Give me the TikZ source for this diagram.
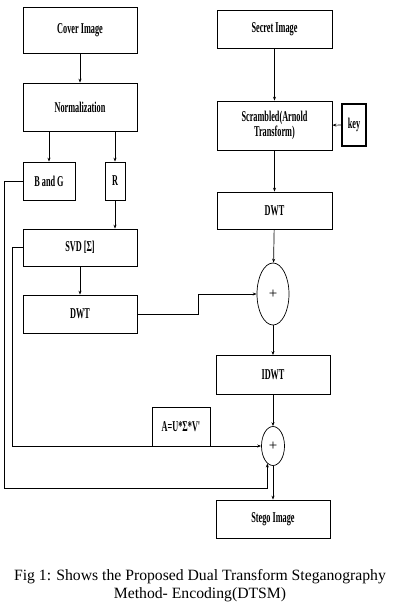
\documentclass[tikz,border=0pt]{standalone}
\usepackage{fontspec}
\setmainfont{Liberation Serif}
\newfontfamily\boxfont[FakeStretch=0.55]{Liberation Serif}
\usetikzlibrary{shapes.geometric,arrows.meta}

\begin{document}
\begin{tikzpicture}[
        x=1pt,
        y=-1pt,
        blockbox/.style={
            draw,
            line width=0.7pt,
            minimum width=114pt,
            minimum height=38pt,
            inner sep=1pt,
            align=center,
            font=\boxfont\bfseries\fontsize{15}{13}\selectfont
        },
        sumnode/.style={
            draw,
            ellipse,
            line width=0.7pt,
            inner sep=0pt,
            font=\fontsize{15}{15}\selectfont
        },
        link/.style={
            line width=0.7pt,
            -{Stealth[length=4pt,width=3pt]}
        }
    ]

        % Marco
        \useasboundingbox (0,0) rectangle (400,610);

        % =====================================================
        % COLUMNA IZQUIERDA (imagen portadora)
        % =====================================================

        \node[blockbox, minimum height=46pt] (cover) at (80,30) {Cover Image};
        \node[blockbox, minimum height=48pt] (norm) at (80,107) {Normalization};
        \node[blockbox, minimum width=52pt] (bandg) at (49,181) {B and G};
        \node[blockbox, minimum width=20pt] (rchan) at (115,181) {R};
        \node[blockbox, minimum height=37pt] (svd) at (80,247.5) {SVD [Σ]};
        \node[blockbox] (dwtl) at (80,314) {DWT};

        % =====================================================
        % COLUMNA DERECHA (imagen secreta)
        % =====================================================

        \node[blockbox, minimum width=115pt] (secret) at (274.5,29) {Secret Image};
        \node[
            blockbox,
            minimum width=115pt,
            minimum height=49pt
        ] (scram) at (274.5,125.5) {Scrambled(Arnold\\Transform)};
        \node[
            blockbox,
            minimum width=24pt,
            minimum height=42pt,
            line width=2pt
        ] (key) at (354,125) {key};
        \node[blockbox, minimum width=115pt, minimum height=37pt] (dwtr) at (274.5,210.5) {DWT};
        \node[sumnode, minimum width=32pt, minimum height=62pt] (sumA) at (273,294) {+};
        \node[blockbox, minimum height=39pt] (idwt) at (273,375) {IDWT};
        \node[sumnode, minimum width=23pt, minimum height=39pt] (sumB) at (273,446) {+};
        \node[blockbox] (stego) at (273,519) {Stego Image};

        % Formula sobre la linea de retorno
        \node[
            blockbox,
            minimum width=58pt,
            minimum height=39pt,
            fill=white
        ] (formula) at (181,426.5) {A=U*Σ*V'};

        % =====================================================
        % CONEXIONES
        % =====================================================

        \draw[link] (cover) -- (norm);
        \draw[link] (norm.south -| bandg) -- (bandg);
        \draw[link] (norm.south -| rchan) -- (rchan);
        \draw[link] (rchan) -- (rchan |- svd.north);
        \draw[link] (svd) -- (dwtl);
        \draw[link] (dwtl.east) -- ++(61,0) |- (sumA.west);

        \draw[link] (secret) -- (scram);
        \draw[link] (key) -- (scram);
        \draw[link] (scram) -- (dwtr);
        \draw[link] (dwtr) -- (sumA);
        \draw[link] (sumA) -- (idwt);
        \draw[link] (idwt) -- (sumB);
        \draw[link] (sumB) -- (stego);

        % Lazos de retorno
        \draw[link] (svd.west) -- ++(-10,0) |- (sumB.west);
        \draw[link] (bandg.west) -- ++(-18,0) |- (sumB.-108 |- 0,488) -- (sumB.-108);

        % Pie de figura
        \node[
            align=center,
            font=\fontsize{15.7}{18}\selectfont
        ] (caption) at (200,586) {
            Fig 1: Shows the Proposed Dual Transform Steganography\\
            Method- Encoding(DTSM)
        };

\end{tikzpicture}
\end{document}
